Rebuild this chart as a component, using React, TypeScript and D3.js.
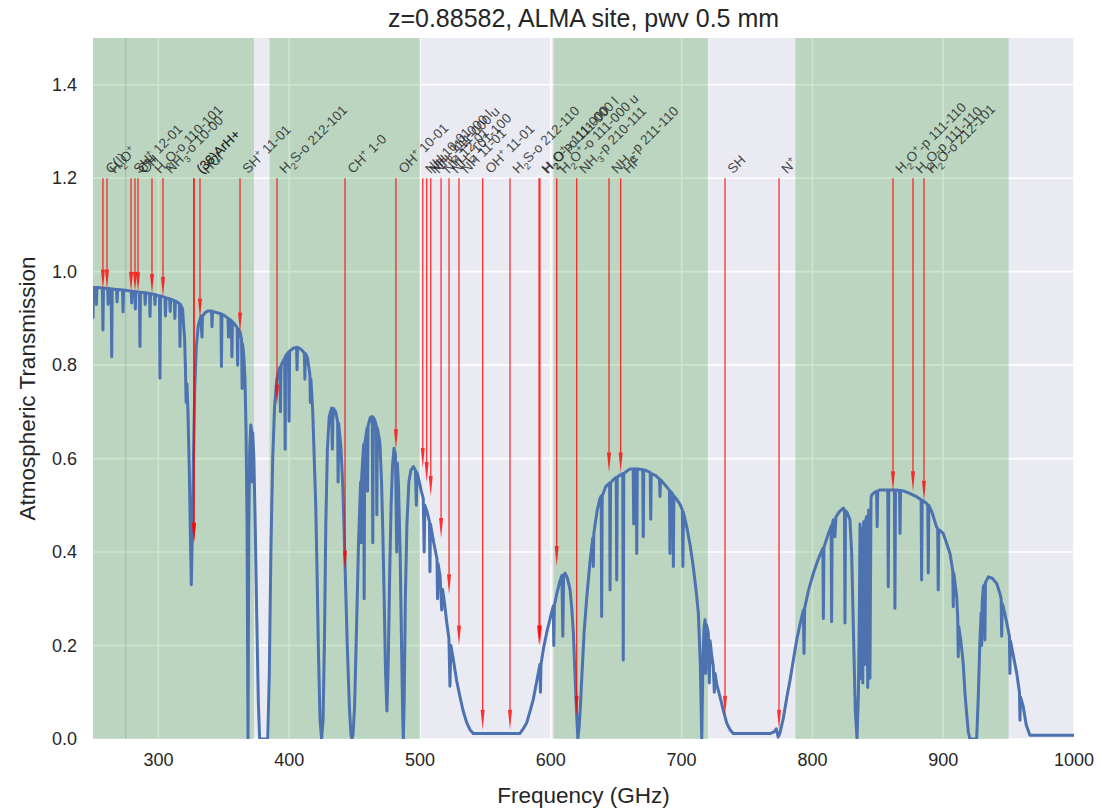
import React from 'react';
import * as d3 from 'd3';

const WIDTH = 1102;
const HEIGHT = 809;

const titleText = 'z=0.88582, ALMA site, pwv 0.5 mm';
const xLabel = 'Frequency (GHz)';
const yLabel = 'Atmospheric Transmission';

const xDomain: [number, number] = [250, 1000];
const yDomain: [number, number] = [0, 1.5];
const xTicks = [300, 400, 500, 600, 700, 800, 900, 1000];
const yTicks = [0, 0.2, 0.4, 0.6, 0.8, 1.0, 1.2, 1.4];

// ALMA bands (GHz)
const bandStarts = [211, 274.6, 385, 602, 787];
const bandEnds = [275.4, 373, 500, 720, 950];

// Atmospheric transmission: [GHz, transmission]
const transmission: [number, number][] = [
  [250.0, 0.90], [250.3, 0.966], [252.2, 0.966], [252.6, 0.93], [253.0, 0.966], [257.2, 0.965], [257.6, 0.875], [258.0, 0.965],
  [261.2, 0.964], [261.6, 0.93], [262.0, 0.964], [263.9, 0.963], [264.3, 0.818], [264.7, 0.963], [268.0, 0.962], [268.4, 0.935],
  [268.8, 0.962], [272.6, 0.961], [273.0, 0.914], [273.4, 0.961], [279.2, 0.958], [279.6, 0.933], [280.0, 0.958], [282.0, 0.957],
  [282.4, 0.92], [282.8, 0.957], [285.5, 0.956], [285.9, 0.84], [286.3, 0.956], [289.5, 0.955], [289.9, 0.93], [290.3, 0.955],
  [293.2, 0.953], [293.6, 0.904], [294.0, 0.953], [297.0, 0.951], [297.4, 0.93], [297.8, 0.951], [300.8, 0.948], [301.2, 0.772],
  [301.6, 0.948], [305.0, 0.945], [305.4, 0.905], [305.8, 0.944], [308.6, 0.942], [309.0, 0.915], [309.4, 0.941], [312.2, 0.938],
  [312.6, 0.90], [313.0, 0.937], [316.1, 0.932], [316.5, 0.84], [316.9, 0.93], [318.5, 0.92], [319.4, 0.88], [320.0, 0.86],
  [320.6, 0.80], [321.2, 0.72], [321.8, 0.76], [322.6, 0.70], [323.6, 0.58], [324.5, 0.43], [325.15, 0.33], [325.8, 0.42],
  [326.8, 0.60], [327.8, 0.75], [329.0, 0.84], [330.5, 0.885], [332.5, 0.905], [333.3, 0.86], [333.7, 0.905], [336.0, 0.913],
  [338.0, 0.916], [340.6, 0.916], [341.0, 0.882], [341.4, 0.915], [344.0, 0.913], [347.8, 0.91], [348.2, 0.797], [348.6, 0.909],
  [351.0, 0.905], [353.2, 0.90], [353.6, 0.86], [354.0, 0.899], [355.8, 0.895], [356.2, 0.818], [356.6, 0.893], [358.5, 0.887],
  [360.2, 0.88], [360.6, 0.80], [361.0, 0.878], [362.5, 0.87], [363.6, 0.855], [364.0, 0.75], [364.4, 0.845], [365.3, 0.82],
  [366.2, 0.77], [367.0, 0.66], [367.8, 0.45], [368.5, 0.0], [369.1, 0.45], [369.8, 0.62], [370.6, 0.672], [371.3, 0.66],
  [371.7, 0.55], [372.1, 0.655], [373.0, 0.60], [374.0, 0.46], [375.2, 0.26], [376.4, 0.08], [377.4, 0.0], [383.6, 0.0],
  [384.8, 0.14], [386.0, 0.40], [387.4, 0.60], [388.8, 0.71], [390.5, 0.77], [392.8, 0.795], [393.3, 0.70], [393.8, 0.80],
  [396.5, 0.815], [396.9, 0.62], [397.3, 0.82], [399.5, 0.828], [399.9, 0.68], [400.3, 0.83], [403.0, 0.836], [405.6, 0.838],
  [406.0, 0.79], [406.4, 0.838], [409.0, 0.834], [411.6, 0.826], [412.0, 0.77], [412.4, 0.825], [414.0, 0.815], [415.8, 0.78],
  [416.2, 0.72], [416.6, 0.77], [418.0, 0.70], [419.5, 0.57], [420.3, 0.50], [421.2, 0.37], [422.4, 0.18], [423.6, 0.04],
  [424.76, 0.0], [425.9, 0.04], [427.0, 0.22], [428.0, 0.46], [429.2, 0.62], [430.6, 0.69], [432.4, 0.708], [433.0, 0.62],
  [433.6, 0.708], [435.5, 0.70], [437.0, 0.68], [437.4, 0.55], [437.8, 0.675], [439.5, 0.625], [441.0, 0.54], [442.7, 0.37],
  [444.4, 0.20], [446.0, 0.07], [447.2, 0.01], [448.0, 0.0], [448.8, 0.01], [450.0, 0.07], [451.5, 0.24], [453.0, 0.42],
  [454.6, 0.55], [455.0, 0.42], [455.4, 0.56], [456.9, 0.63], [457.3, 0.30], [457.7, 0.63], [459.5, 0.665], [459.9, 0.53],
  [460.3, 0.67], [462.0, 0.688], [463.5, 0.69], [463.9, 0.42], [464.3, 0.688], [465.7, 0.68], [466.6, 0.67], [467.0, 0.48],
  [467.4, 0.665], [469.0, 0.64], [469.4, 0.63], [470.6, 0.55], [471.6, 0.44], [472.6, 0.30], [473.6, 0.15], [474.7, 0.06],
  [475.7, 0.16], [476.8, 0.35], [477.9, 0.50], [479.0, 0.585], [480.1, 0.622], [481.2, 0.61], [482.2, 0.40], [482.7, 0.59],
  [483.6, 0.54], [484.8, 0.40], [485.9, 0.20], [486.7, 0.06], [487.25, 0.0], [487.9, 0.08], [488.8, 0.30], [490.0, 0.46],
  [491.5, 0.55], [493.0, 0.575], [494.9, 0.583], [496.5, 0.575], [497.2, 0.50], [497.7, 0.57], [499.5, 0.55], [501.0, 0.53],
  [502.5, 0.515], [503.2, 0.40], [503.7, 0.50], [505.5, 0.485], [507.2, 0.465], [507.6, 0.358], [508.0, 0.46], [510.5, 0.42],
  [513.0, 0.385], [513.4, 0.30], [513.8, 0.375], [515.3, 0.35], [516.6, 0.276], [517.3, 0.32], [519.0, 0.285], [520.4, 0.25],
  [522.1, 0.215], [522.9, 0.113], [523.6, 0.20], [525.2, 0.175], [528.0, 0.125], [530.6, 0.09], [533.0, 0.06], [535.7, 0.035],
  [538.2, 0.02], [540.7, 0.012], [576.5, 0.012], [578.5, 0.02], [581.6, 0.035], [584.0, 0.058], [586.6, 0.085], [589.0, 0.12],
  [591.7, 0.16], [592.1, 0.10], [592.5, 0.16], [594.5, 0.195], [596.9, 0.228], [599.5, 0.258], [601.9, 0.285], [602.3, 0.20],
  [602.7, 0.285], [604.5, 0.31], [607.0, 0.338], [608.5, 0.35], [609.2, 0.22], [609.8, 0.35], [610.9, 0.355], [612.6, 0.345],
  [614.7, 0.32], [616.0, 0.28], [617.2, 0.23], [618.6, 0.13], [619.8, 0.05], [620.7, 0.0], [621.8, 0.03], [623.0, 0.09],
  [623.6, 0.126], [625.5, 0.23], [627.4, 0.30], [630.0, 0.38], [632.1, 0.43], [632.5, 0.369], [632.9, 0.44], [635.5, 0.49],
  [637.6, 0.515], [638.5, 0.52], [638.9, 0.262], [639.3, 0.52], [642.0, 0.54], [645.0, 0.548], [645.3, 0.319], [645.7, 0.548],
  [647.8, 0.555], [650.0, 0.56], [650.4, 0.34], [650.8, 0.56], [653.5, 0.566], [655.0, 0.568], [655.4, 0.169], [655.8, 0.568],
  [658.0, 0.573], [660.6, 0.578], [663.0, 0.578], [663.4, 0.46], [663.8, 0.578], [665.3, 0.578], [665.7, 0.397], [666.1, 0.578],
  [668.5, 0.577], [670.3, 0.576], [670.7, 0.433], [671.1, 0.576], [673.3, 0.574], [676.0, 0.57], [676.4, 0.47], [676.8, 0.568],
  [680.0, 0.564], [683.1, 0.556], [683.5, 0.519], [683.9, 0.555], [686.0, 0.548], [688.5, 0.54], [690.7, 0.532], [691.1, 0.397],
  [691.5, 0.53], [693.3, 0.524], [693.7, 0.369], [694.1, 0.52], [696.5, 0.512], [698.8, 0.502], [700.6, 0.49], [701.0, 0.369],
  [701.4, 0.485], [703.9, 0.454], [706.5, 0.415], [708.9, 0.369], [711.0, 0.32], [712.8, 0.27], [714.3, 0.16], [715.4, 0.0],
  [716.4, 0.18], [717.2, 0.24], [717.9, 0.255], [718.5, 0.14], [719.0, 0.245], [720.4, 0.227], [721.2, 0.12], [721.8, 0.21],
  [723.0, 0.18], [724.2, 0.155], [725.0, 0.10], [725.6, 0.14], [727.0, 0.115], [729.4, 0.09], [732.0, 0.06], [734.5, 0.034],
  [737.0, 0.02], [739.5, 0.012], [768.0, 0.012], [771.0, 0.016], [772.4, 0.022], [773.84, 0.004], [775.2, 0.013], [777.8, 0.045],
  [780.5, 0.09], [782.9, 0.126], [785.5, 0.17], [788.0, 0.212], [790.5, 0.245], [793.1, 0.276], [793.6, 0.183], [794.1, 0.28],
  [797.0, 0.318], [800.8, 0.355], [804.5, 0.385], [808.0, 0.408], [808.4, 0.258], [808.8, 0.41], [812.3, 0.44], [814.3, 0.455],
  [814.7, 0.251], [815.1, 0.458], [816.0, 0.469], [817.2, 0.433], [818.0, 0.475], [820.5, 0.486], [823.6, 0.494], [824.5, 0.49],
  [824.9, 0.248], [825.3, 0.488], [826.5, 0.485], [828.7, 0.469], [830.0, 0.40], [831.3, 0.24], [832.8, 0.06], [834.1, 0.0],
  [835.2, 0.10], [836.0, 0.30], [836.4, 0.46], [837.0, 0.13], [837.6, 0.45], [838.5, 0.12], [839.2, 0.465], [840.2, 0.16],
  [840.9, 0.47], [841.5, 0.476], [842.3, 0.11], [843.0, 0.49], [844.0, 0.13], [844.8, 0.515], [845.3, 0.522], [847.5, 0.528],
  [849.1, 0.53], [849.5, 0.454], [849.9, 0.53], [851.7, 0.533], [855.0, 0.533], [857.6, 0.533], [858.0, 0.326], [858.4, 0.533],
  [860.5, 0.533], [862.7, 0.533], [863.1, 0.28], [863.5, 0.533], [864.4, 0.533], [866.6, 0.532], [867.0, 0.44], [867.4, 0.532],
  [870.5, 0.53], [874.0, 0.526], [877.1, 0.522], [880.0, 0.518], [883.1, 0.512], [883.5, 0.34], [883.9, 0.511], [886.0, 0.507],
  [887.3, 0.504], [888.2, 0.50], [888.6, 0.355], [889.0, 0.50], [891.5, 0.485], [894.9, 0.454], [895.8, 0.45], [896.2, 0.319],
  [896.6, 0.448], [898.0, 0.445], [900.0, 0.44], [902.5, 0.42], [905.2, 0.397], [907.3, 0.36], [907.7, 0.283], [908.1, 0.355],
  [910.3, 0.305], [911.1, 0.26], [911.5, 0.176], [911.9, 0.24], [913.5, 0.21], [915.3, 0.162], [916.6, 0.10], [917.9, 0.056],
  [919.2, 0.015], [920.5, 0.0], [925.6, 0.0], [926.8, 0.09], [928.1, 0.212], [929.0, 0.27], [929.4, 0.20], [929.8, 0.29],
  [930.7, 0.326], [931.5, 0.33], [931.9, 0.212], [932.3, 0.335], [934.5, 0.347], [937.5, 0.344], [940.9, 0.333], [943.5, 0.31],
  [944.3, 0.30], [944.7, 0.22], [945.1, 0.29], [945.9, 0.283], [948.5, 0.25], [950.6, 0.22], [951.0, 0.14], [951.4, 0.21],
  [953.5, 0.18], [956.2, 0.141], [958.3, 0.10], [958.7, 0.04], [959.1, 0.09], [961.2, 0.069], [963.5, 0.03], [966.3, 0.008],
  [1000.0, 0.008],
];

// Redshifted lines: observed frequency (GHz), transmission at arrow tip, label
const lineFreqs = [257.6, 260.7, 279.1, 282.1, 284.4, 295.1, 303.5, 327.2, 327.2, 331.8, 362.4, 390.7, 442.7, 481.6,
  502.1, 505.1, 508.2, 516.1, 522.2, 529.8, 547.9, 568.8, 591.0, 591.7, 604.5, 619.8, 644.5, 653.4, 733.2, 774.5,
  861.6, 876.9, 885.3];
const lineTips = [0.962, 0.962, 0.957, 0.957, 0.956, 0.952, 0.946, 0.42, 0.42, 0.90, 0.87, 0.715, 0.36, 0.62,
  0.58, 0.55, 0.52, 0.43, 0.31, 0.2, 0.02, 0.02, 0.2, 0.2, 0.37, 0.05, 0.57, 0.57, 0.05, 0.02,
  0.53, 0.53, 0.51];
const lineLabels = ['C(I)', 'H_2O^+', 'SH^+ 12-01', 'CH', 'CH', 'H_2O-o 110-101', 'NH_3-o 10-00', '(36)ArH+', '(38)ArH+', 'HCl',
  'SH^+ 11-01', 'H_2S-o 212-101', 'CH^+ 1-0', 'OH^+ 10-01',
  'NH 10-01', 'NH_2 111-000 l', 'NH_2 111-000 u', 'NH 12-01', 'NH_2 101-100', 'NH 11-01', 'OH^+ 11-01', 'H_2S-o 212-110',
  'H_2O-p 111-000', 'H_2O^+-o 111-000 l', 'H_2O^+-o 111-000 u', 'NH_3-p 210-111', 'NH_3-p 211-110', 'HF', 'SH', 'N^+',
  'H_2O^+-p 111-110', 'H_2O-p 111-110', 'H_2O-o 212-101'];

type Seg = { t: string; s: number };
function parseLabel(str: string): Seg[] {
  const segs: Seg[] = [];
  let i = 0;
  while (i < str.length) {
    const c = str[i];
    if ((c === '_' || c === '^') && i + 1 < str.length) {
      segs.push({ t: str[i + 1], s: c === '_' ? -1 : 1 });
      i += 2;
    } else {
      if (segs.length && segs[segs.length - 1].s === 0) segs[segs.length - 1].t += c;
      else segs.push({ t: c, s: 0 });
      i += 1;
    }
  }
  return segs;
}

function RichText({ str, size }: { str: string; size: number }) {
  const segs = parseLabel(str);
  let prev = 0;
  return (
    <>
      {segs.map((sg, i) => {
        const off = sg.s === -1 ? size * 0.3 : sg.s === 1 ? -size * 0.4 : 0;
        const dy = off - prev;
        prev = off;
        return (
          <tspan key={i} dy={dy} fontSize={sg.s === 0 ? size : size * 0.7}>
            {sg.t}
          </tspan>
        );
      })}
    </>
  );
}

export default function App() {
  const left = 93, right = 1074, top = 38, bottom = 739;
  const x = d3.scaleLinear().domain(xDomain).range([left, right]);
  const y = d3.scaleLinear().domain(yDomain).range([bottom, top]);
  const linePath = d3
    .line<[number, number]>()
    .x((d) => x(d[0]))
    .y((d) => y(d[1]))(transmission) as string;

  const font = '"Liberation Sans", Arial, Helvetica, sans-serif';
  const textColor = '#262626';
  const labelSize = 13.5;

  return (
    <svg
      width={WIDTH}
      height={HEIGHT}
      style={{ position: 'absolute', left: 0, top: 0, background: '#ffffff' }}
      fontFamily={font}
    >
      <defs>
        <clipPath id="plotClip">
          <rect x={left} y={top} width={right - left} height={bottom - top} />
        </clipPath>
      </defs>
      <rect x={left} y={top} width={right - left} height={bottom - top} fill="#EAEAF2" />
      {xTicks.map((t) => (
        <line key={'gx' + t} x1={x(t)} x2={x(t)} y1={top} y2={bottom} stroke="#ffffff" strokeWidth={1.6} />
      ))}
      {yTicks.map((t) => (
        <line key={'gy' + t} x1={left} x2={right} y1={y(t)} y2={y(t)} stroke="#ffffff" strokeWidth={1.6} />
      ))}
      <g clipPath="url(#plotClip)">
        {bandStarts.map((b, i) => (
          <rect
            key={'band' + i}
            x={x(b)}
            y={top}
            width={x(bandEnds[i]) - x(b)}
            height={bottom - top}
            fill="green"
            fillOpacity={0.2}
          />
        ))}
        <path d={linePath} fill="none" stroke="#4C72B0" strokeWidth={3} strokeLinejoin="round" />
        {lineFreqs.map((f, i) => {
          const px = x(f);
          const y0 = y(1.2);
          const y1 = y(lineTips[i]);
          const hl = 20;
          return (
            <g key={'arr' + i}>
              <line x1={px} x2={px} y1={y0} y2={y1 - hl} stroke="#ff0000" strokeWidth={1.3} strokeOpacity={0.8} />
              <path
                d={`M${px - 2},${y1 - hl} L${px + 2},${y1 - hl} L${px},${y1} Z`}
                fill="#ff0000"
                fillOpacity={0.8}
              />
            </g>
          );
        })}
      </g>
      {lineFreqs.map((f, i) => (
        <text
          key={'lab' + i}
          transform={`translate(${x(f) + 8},${y(1.2) - 4}) rotate(-45)`}
          fontSize={labelSize}
          fill={textColor}
          fillOpacity={0.85}
        >
          <RichText str={lineLabels[i]} size={labelSize} />
        </text>
      ))}
      {xTicks.map((t) => (
        <text key={'xt' + t} x={x(t)} y={bottom + 27} textAnchor="middle" fontSize={18} fill={textColor}>
          {t}
        </text>
      ))}
      {yTicks.map((t) => (
        <text key={'yt' + t} x={left - 16} y={y(t) + 6} textAnchor="end" fontSize={18} fill={textColor}>
          {t.toFixed(1)}
        </text>
      ))}
      <text x={(left + right) / 2} y={803} textAnchor="middle" fontSize={22.5} fill={textColor}>
        {xLabel}
      </text>
      <text
        transform={`translate(35,${(top + bottom) / 2}) rotate(-90)`}
        textAnchor="middle"
        fontSize={22.5}
        fill={textColor}
      >
        {yLabel}
      </text>
      <text x={(left + right) / 2} y={27} textAnchor="middle" fontSize={25} fill={textColor}>
        {titleText}
      </text>
    </svg>
  );
}
